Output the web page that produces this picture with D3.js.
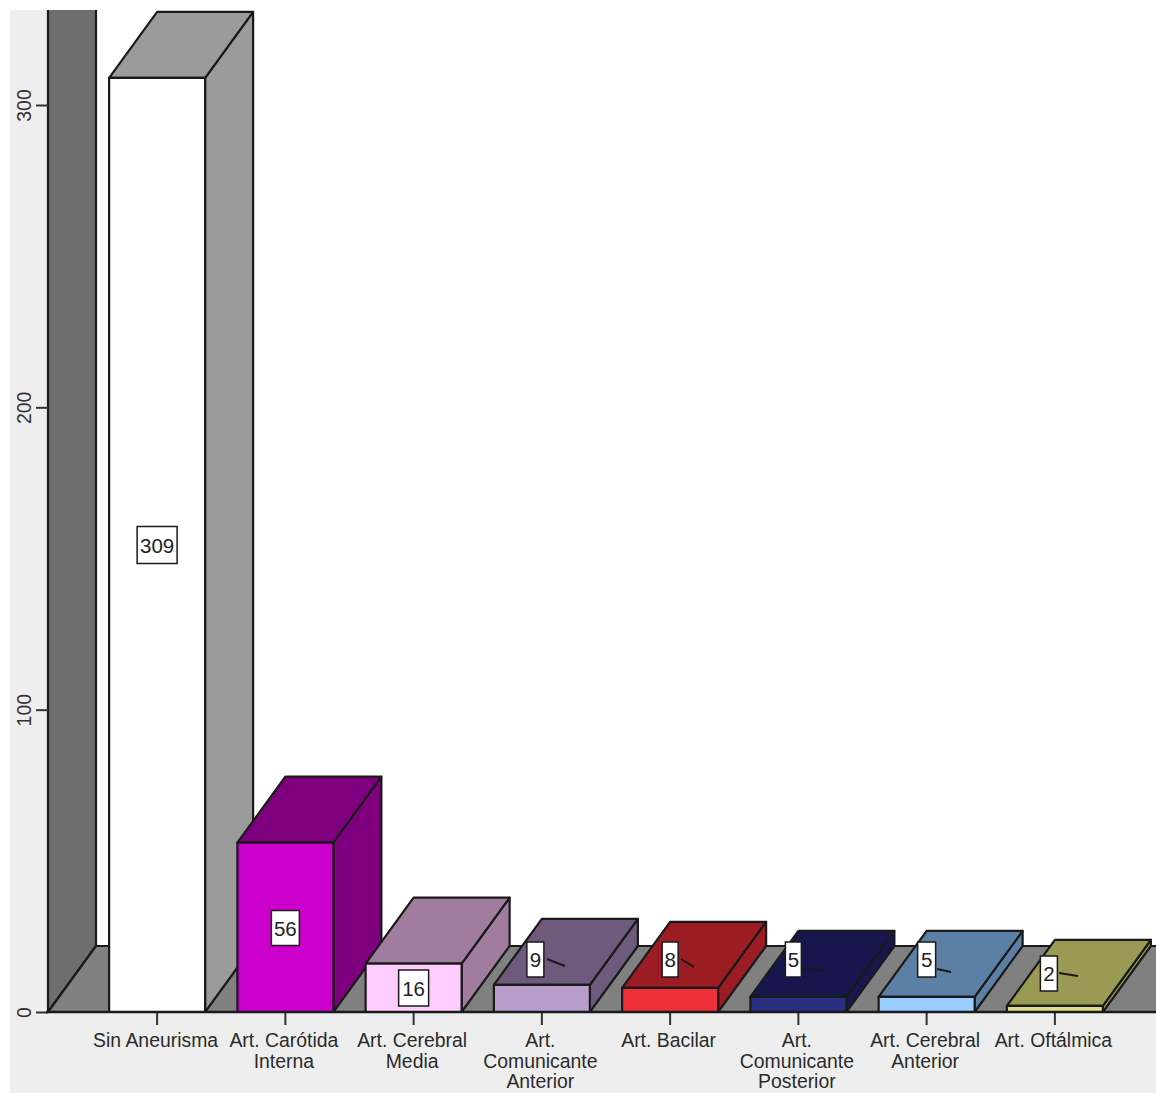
<!DOCTYPE html>
<html><head><meta charset="utf-8">
<script src="https://cdn.jsdelivr.net/npm/d3@7"></script>
<style>html,body{margin:0;padding:0;background:#fff}svg{display:block}text{font-family:"Liberation Sans",Arial,sans-serif}</style>
</head><body><svg id="c" width="1156" height="1093"></svg>
<script>
const categories = ["Sin Aneurisma","Art. Carótida Interna","Art. Cerebral Media","Art. Comunicante Anterior","Art. Bacilar","Art. Comunicante Posterior","Art. Cerebral Anterior","Art. Oftálmica"];
const categoryLines = [["Sin Aneurisma"],["Art. Carótida","Interna"],["Art. Cerebral","Media"],["Art.","Comunicante","Anterior"],["Art. Bacilar"],["Art.","Comunicante","Posterior"],["Art. Cerebral","Anterior"],["Art. Oftálmica"]];
const counts = [309,56,16,9,8,5,5,2];
const yTicks = [0,100,200,300];
const frontColors = ["#ffffff","#cc00cc","#ffccff","#b89cc9","#ee3038","#2a2e82","#99ccff","#dede8a"];
const darkColors = ["#9b9b9b","#7e007e","#a07d9f","#6d5a7c","#9b1c22","#17174e","#5c7fa6","#9a9a55"];

const W=1156,H=1093, base=1012, left=48, dx=48, dy=-66;
const svg=d3.select("#c");
const y=d3.scaleLinear().domain([0,300]).range([base,105]);
const x=d3.scaleBand().domain(categories).range([93,1119]).paddingInner(0.2515).paddingOuter(0.1257);
const ink="#1a1a1a";
const poly=(pts,fill)=>svg.append("polygon").attr("points",pts.map(p=>p.join(",")).join(" ")).attr("fill",fill).attr("stroke",ink).attr("stroke-width",2.2).attr("stroke-linejoin","round");

// panel
svg.append("rect").attr("x",10).attr("y",10).attr("width",W-10).attr("height",H-10).attr("fill","#eeeeee");
svg.append("rect").attr("x",left).attr("y",10).attr("width",W-left).attr("height",base-10).attr("fill","#ffffff");
// wall and floor
poly([[left,4],[left+dx,4],[left+dx,base+dy],[left,base]],"#6e6e6e");
svg.append("rect").attr("x",left-3).attr("y",0).attr("width",dx+6).attr("height",10).attr("fill","#ffffff");
poly([[left,base],[left+dx,base+dy],[W+4,base+dy],[W+4,base]],"#808080");

// bars
categories.forEach((c,i)=>{
  const x0=x(c), x1=x0+x.bandwidth(), yt=y(counts[i]);
  poly([[x1,base],[x1+dx,base+dy],[x1+dx,yt+dy],[x1,yt]],darkColors[i]);
  poly([[x0,yt],[x0+dx,yt+dy],[x1+dx,yt+dy],[x1,yt]],darkColors[i]);
  poly([[x0,yt],[x1,yt],[x1,base],[x0,base]],frontColors[i]);
});

// axes
const ya=svg.append("g").attr("transform",`translate(${left},0)`).call(d3.axisLeft(y).tickValues(yTicks).tickSize(12).tickPadding(0).tickFormat(d3.format("d")));
ya.select(".domain").remove();
ya.selectAll("line").attr("stroke","#333").attr("stroke-width",2);
ya.selectAll("text").attr("transform","translate(-17,0) rotate(-90)").attr("x",0).attr("y",0).attr("dy",0).attr("text-anchor","middle").attr("fill","#333").style("font-size","19.5px").style("font-family",'"Liberation Sans",Arial,sans-serif');
const xa=svg.append("g").attr("transform",`translate(0,${base})`).call(d3.axisBottom(x).tickSize(13).tickFormat(""));
xa.select(".domain").remove();
xa.selectAll("line").attr("stroke","#333").attr("stroke-width",2);
svg.append("line").attr("x1",left-2).attr("x2",W).attr("y1",base).attr("y2",base).attr("stroke",ink).attr("stroke-width",2.5);
categories.forEach((c,i)=>{
  const t=svg.append("text").attr("text-anchor","middle").attr("font-size",19.4).attr("fill","#2b2b2b");
  categoryLines[i].forEach((l,k)=>t.append("tspan").attr("x",x(c)+x.bandwidth()/2-1.5).attr("y",base+35+k*20.5).text(l));
});

// value labels: box centre relative to bar centre, plus leader end
const labelLayout=[
 {ox:0,cy:545,w:40,h:37},{ox:0,cy:928,w:28,h:35},{ox:0,cy:988,w:30,h:36},
 {ox:-6.5,cy:959.5,w:17,h:35,lx:[547,565],ly:[959,966]},
 {ox:0,cy:959.5,w:16,h:35,lx:[681,694],ly:[959,967]},
 {ox:-5,cy:959.5,w:16,h:35,lx:[802,823],ly:[968,971]},
 {ox:0,cy:959.5,w:18,h:35,lx:[937,951],ly:[969,972]},
 {ox:-6,cy:973.5,w:17,h:35,lx:[1059,1078],ly:[973,976]}];
categories.forEach((c,i)=>{
  const L=labelLayout[i], cx=x(c)+x.bandwidth()/2+L.ox;
  if(L.lx) svg.append("line").attr("x1",L.lx[0]).attr("x2",L.lx[1]).attr("y1",L.ly[0]).attr("y2",L.ly[1]).attr("stroke",ink).attr("stroke-width",2);
  svg.append("rect").attr("x",cx-L.w/2).attr("y",L.cy-L.h/2).attr("width",L.w).attr("height",L.h).attr("fill","#fff").attr("stroke",ink).attr("stroke-width",1.5);
  svg.append("text").attr("x",cx).attr("y",L.cy+7.5).attr("text-anchor","middle").attr("font-size",20.5).attr("fill","#222").text(counts[i]);
});
</script></body></html>
